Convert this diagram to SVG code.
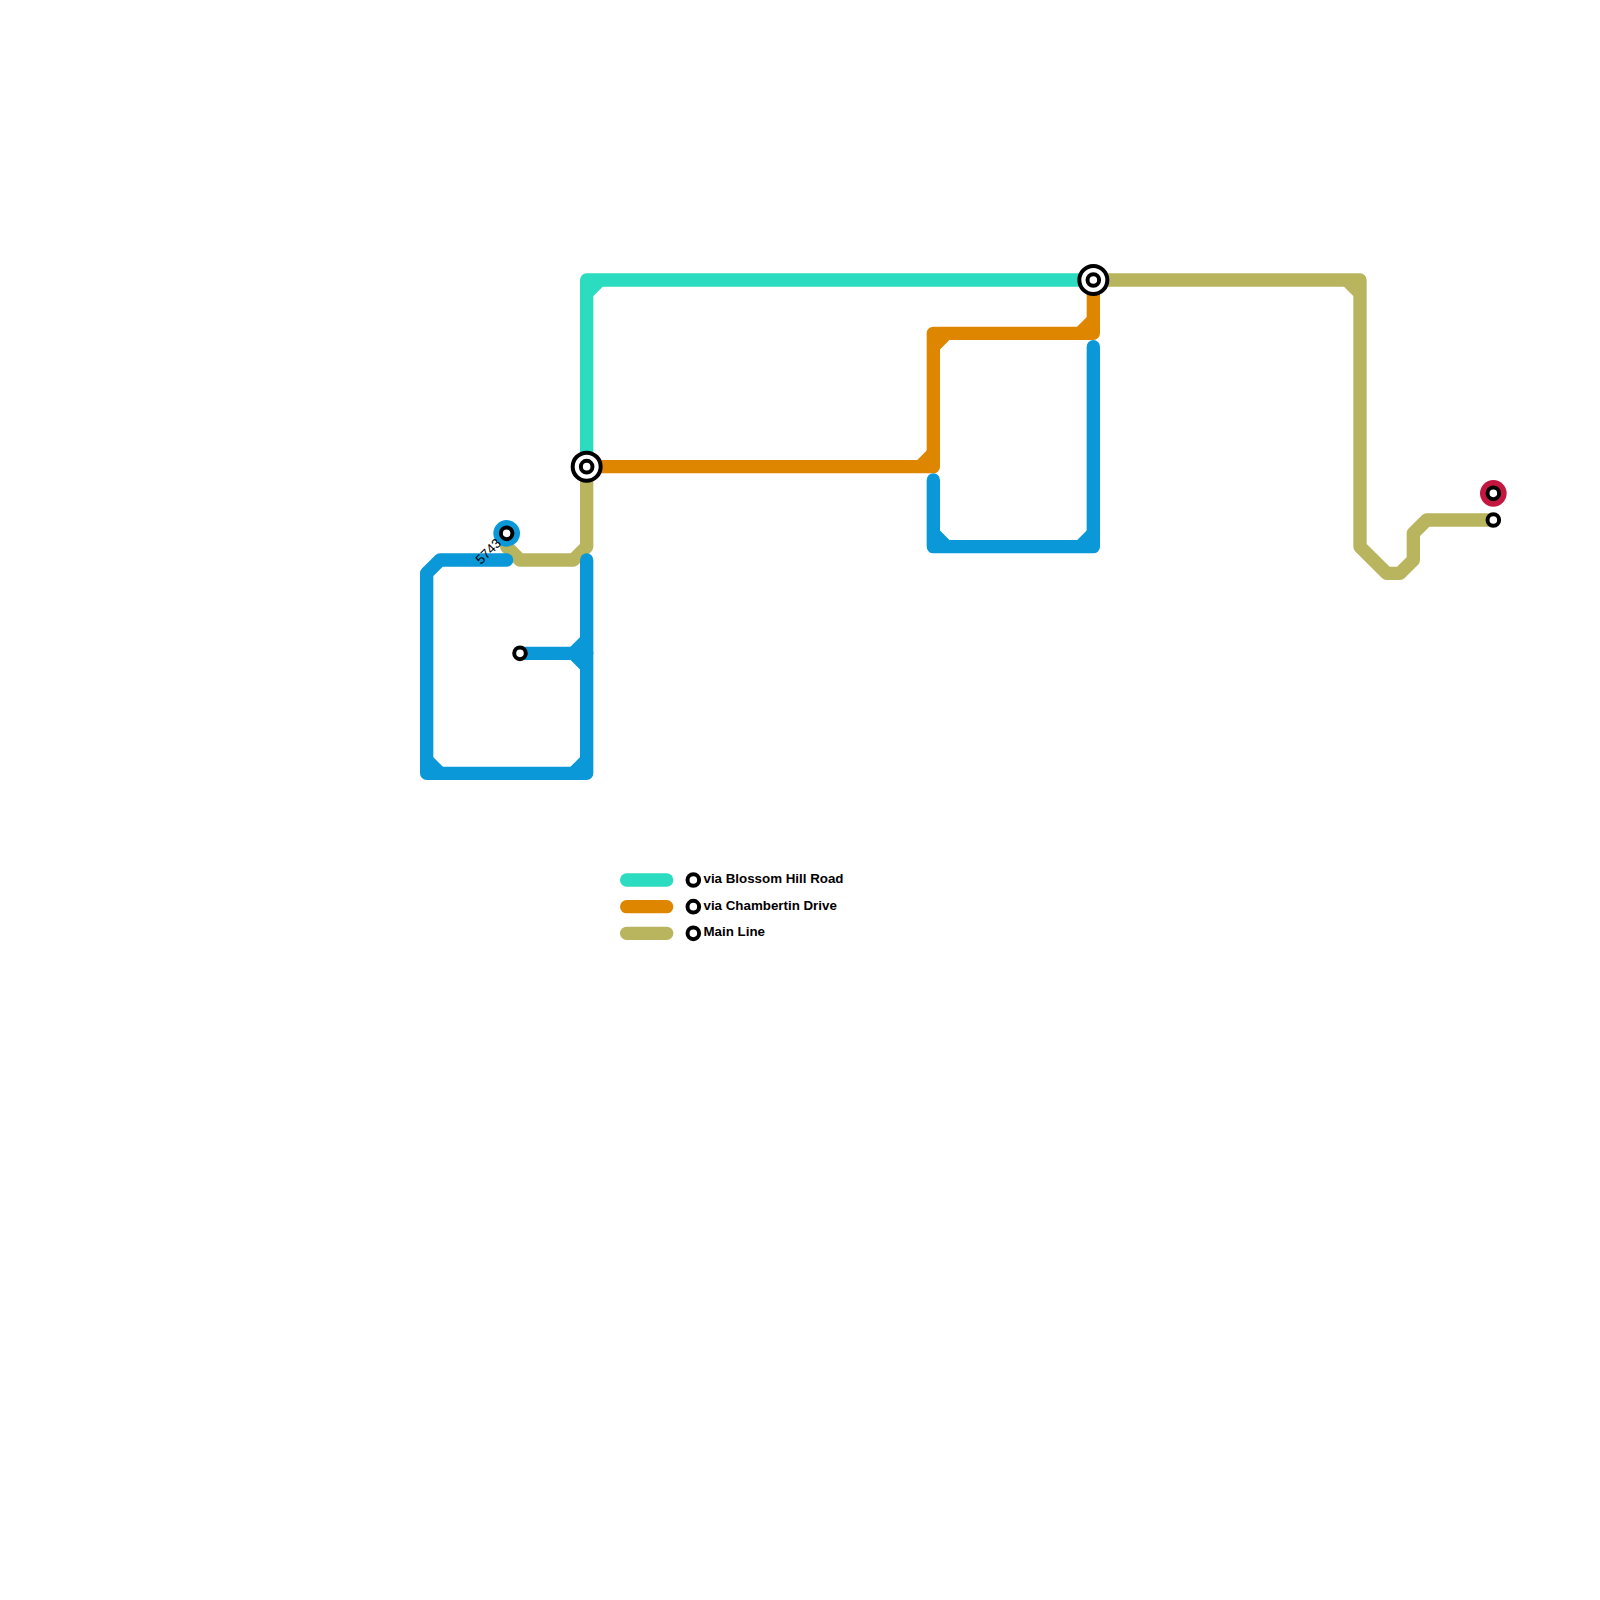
<svg xmlns="http://www.w3.org/2000/svg" width="1600" height="1600" viewBox="0 0 1600 1600">
<style>
.l{fill:none;stroke-width:13.33;stroke-linecap:round;stroke-linejoin:round}
.s{fill:none;stroke-width:13.33;stroke-linecap:butt}
.teal{stroke:#2bdcc0}.orange{stroke:#de8600}.olive{stroke:#b8b55e}.blue{stroke:#0a98d9}
.st{fill:#fff;stroke:#000;stroke-width:4}
.ic{fill:#fff;stroke:#000;stroke-width:4}
text{font-family:"Liberation Sans",Arial,sans-serif;fill:#000}
.lg{font-size:13.33px;font-weight:700}
</style>
<rect width="1600" height="1600" fill="#fff"/>
<g id="connectors">
<g id="line-main">
<path class="l olive" d="M506.67 533.33V546.67L520 560H573.33L586.67 546.67V466.67"/>
<path class="l olive" d="M1093.33 280H1360V546.67L1386.67 573.33H1400L1413.33 560V533.33L1426.67 520H1493.33"/>
<path class="s olive" d="M1346.67 280L1360 293.33"/>
</g>
<g id="line-blossom">
<path class="l teal" d="M586.67 466.67V280H1093.33"/>
<path class="s teal" d="M586.67 293.33L600 280"/>
</g>
<g id="line-chambertin">
<path class="l orange" d="M586.67 466.67H933.33V333.33H1093.33V280"/>
<path class="s orange" d="M920 466.67L933.33 453.33M933.33 346.67L946.67 333.33M1080 333.33L1093.33 320"/>
</g>
<g id="line-blue">
<path class="l blue" d="M506.67 560H440L426.67 573.33V773.33H586.67V560"/>
<path class="s blue" d="M426.67 760L440 773.33M573.33 773.33L586.67 760"/>
<path class="l blue" d="M520 653.33H586.67"/>
<path class="s blue" d="M573.33 653.33L586.67 640M573.33 653.33L586.67 666.67"/>
<path class="l blue" d="M933.33 480V546.67H1093.33V346.67"/>
<path class="s blue" d="M933.33 533.33L946.67 546.67M1080 546.67L1093.33 533.33"/>
</g>
</g>
<g id="node-5743">
<circle cx="506.67" cy="533.33" r="13.33" fill="#0a98d9"/>
<circle class="st" cx="506.67" cy="533.33" r="5.8"/>
<text transform="translate(481 565) rotate(-45)" font-size="13.33">5743</text>
</g>
<g id="node-branch"><circle class="st" cx="520" cy="653.33" r="5.8"/></g>
<g id="node-interchange-west">
<circle class="ic" cx="586.67" cy="466.67" r="14"/>
<circle class="st" cx="586.67" cy="466.67" r="5.8"/>
</g>
<g id="node-interchange-east">
<circle class="ic" cx="1093.33" cy="280" r="14"/>
<circle class="st" cx="1093.33" cy="280" r="5.8"/>
</g>
<g id="node-red">
<circle cx="1493.33" cy="493.33" r="13.33" fill="#c4173f"/>
<circle class="st" cx="1493.33" cy="493.33" r="5.8"/>
</g>
<g id="node-end"><circle class="st" cx="1493.33" cy="520" r="5.8"/></g>
<g id="legend">
<path class="l teal" d="M626.67 880H666.67"/>
<path class="l orange" d="M626.67 906.67H666.67"/>
<path class="l olive" d="M626.67 933.33H666.67"/>
<circle class="st" cx="693.33" cy="880" r="5.8"/>
<circle class="st" cx="693.33" cy="906.67" r="5.8"/>
<circle class="st" cx="693.33" cy="933.33" r="5.8"/>
<text class="lg" x="703.5" y="883">via Blossom Hill Road</text>
<text class="lg" x="703.5" y="909.5">via Chambertin Drive</text>
<text class="lg" x="703.5" y="936">Main Line</text>
</g>
</svg>
